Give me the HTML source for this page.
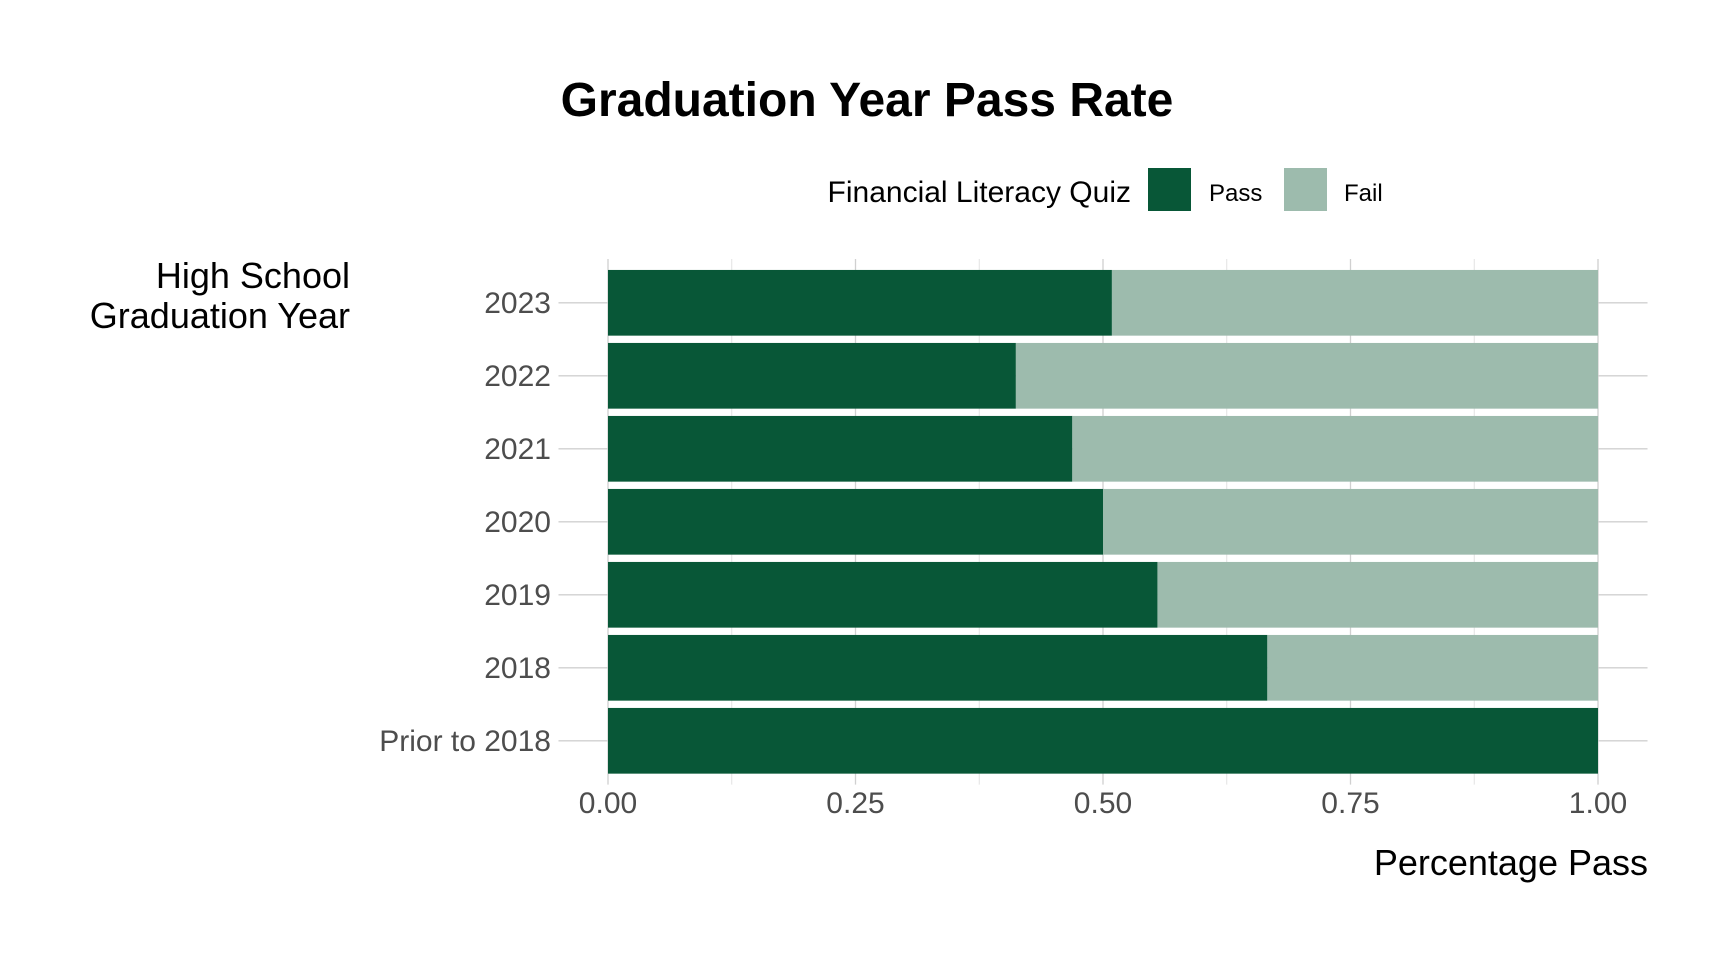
<!DOCTYPE html>
<html><head><meta charset="utf-8"><style>
body{margin:0;background:#fff;}
svg{display:block;font-family:"Liberation Sans",Arial,sans-serif;}
</style></head><body>
<svg id="chart" width="1728" height="960" viewBox="0 0 1728 960">
<text x="867" y="116" font-size="48" font-weight="bold" text-anchor="middle">Graduation Year Pass Rate</text>
<g transform="translate(-12,-2)">
<text x="1143" y="204" font-size="30" text-anchor="end">Financial Literacy Quiz</text>
<rect x="1160" y="170" width="43" height="43" fill="#085737"/>
<text x="1221" y="203" font-size="24">Pass</text>
<rect x="1296" y="170" width="43" height="43" fill="#9dbbad"/>
<text x="1356" y="203" font-size="24">Fail</text>
</g>
<text font-size="36" text-anchor="end"><tspan x="350" y="288">High School</tspan><tspan x="350" y="328">Graduation Year</tspan></text>
<text x="1648" y="875" font-size="36" text-anchor="end">Percentage Pass</text>
<g id="grid"></g><g id="bars"></g><g id="labels"></g>
</svg>
<script>
const categories=["2023","2022","2021","2020","2019","2018","Prior to 2018"];
const passValues=[0.509,0.412,0.469,0.5,0.555,0.666,1.0];
const xTicks=[0,0.25,0.5,0.75,1];
const xTickLabels=["0.00","0.25","0.50","0.75","1.00"];
const NS="http://www.w3.org/2000/svg";
const x0=608,x1=1598,panelTop=259,step=73,bandH=0.9*step;
const panelL=558.5,panelR=1647.5,panelB=panelTop+(categories.length+0.2)*step;
const xs=v=>x0+v*(x1-x0);
const yc=i=>panelTop+(0.6+i)*step;
function mk(tag,attrs,parent){const e=document.createElementNS(NS,tag);for(const k in attrs)e.setAttribute(k,attrs[k]);document.getElementById(parent).appendChild(e);return e;}
xTicks.forEach((t,i)=>{const l=mk('line',{x1:xs(t),x2:xs(t),y1:panelTop,y2:panelB,stroke:'#d0d0d0','stroke-width':1.3},'grid');


if(i<xTicks.length-1){const m=mk('line',{x1:xs(t+0.125),x2:xs(t+0.125),y1:panelTop,y2:panelB,stroke:'#e2e2e2','stroke-width':1},'grid');

}
const tx=mk('text',{x:xs(t),y:813,'font-size':30,fill:'#4d4d4d','text-anchor':'middle'},'labels');tx.textContent=xTickLabels[i];

});
categories.forEach((c,i)=>{const l=mk('line',{x1:panelL,x2:panelR,y1:yc(i),y2:yc(i),stroke:'#d0d0d0','stroke-width':1.3},'grid');


const p=passValues[i];
const rp=mk('rect',{x:xs(0),y:yc(i)-bandH/2,width:xs(p)-xs(0),height:bandH,fill:'#085737'},'bars');


const rf=mk('rect',{x:xs(p),y:yc(i)-bandH/2,width:xs(1)-xs(p),height:bandH,fill:'#9dbbad'},'bars');


const t=mk('text',{x:551,y:yc(i)+10,'font-size':30,fill:'#4d4d4d','text-anchor':'end'},'labels');t.textContent=c;

});
</script>
</body></html>
